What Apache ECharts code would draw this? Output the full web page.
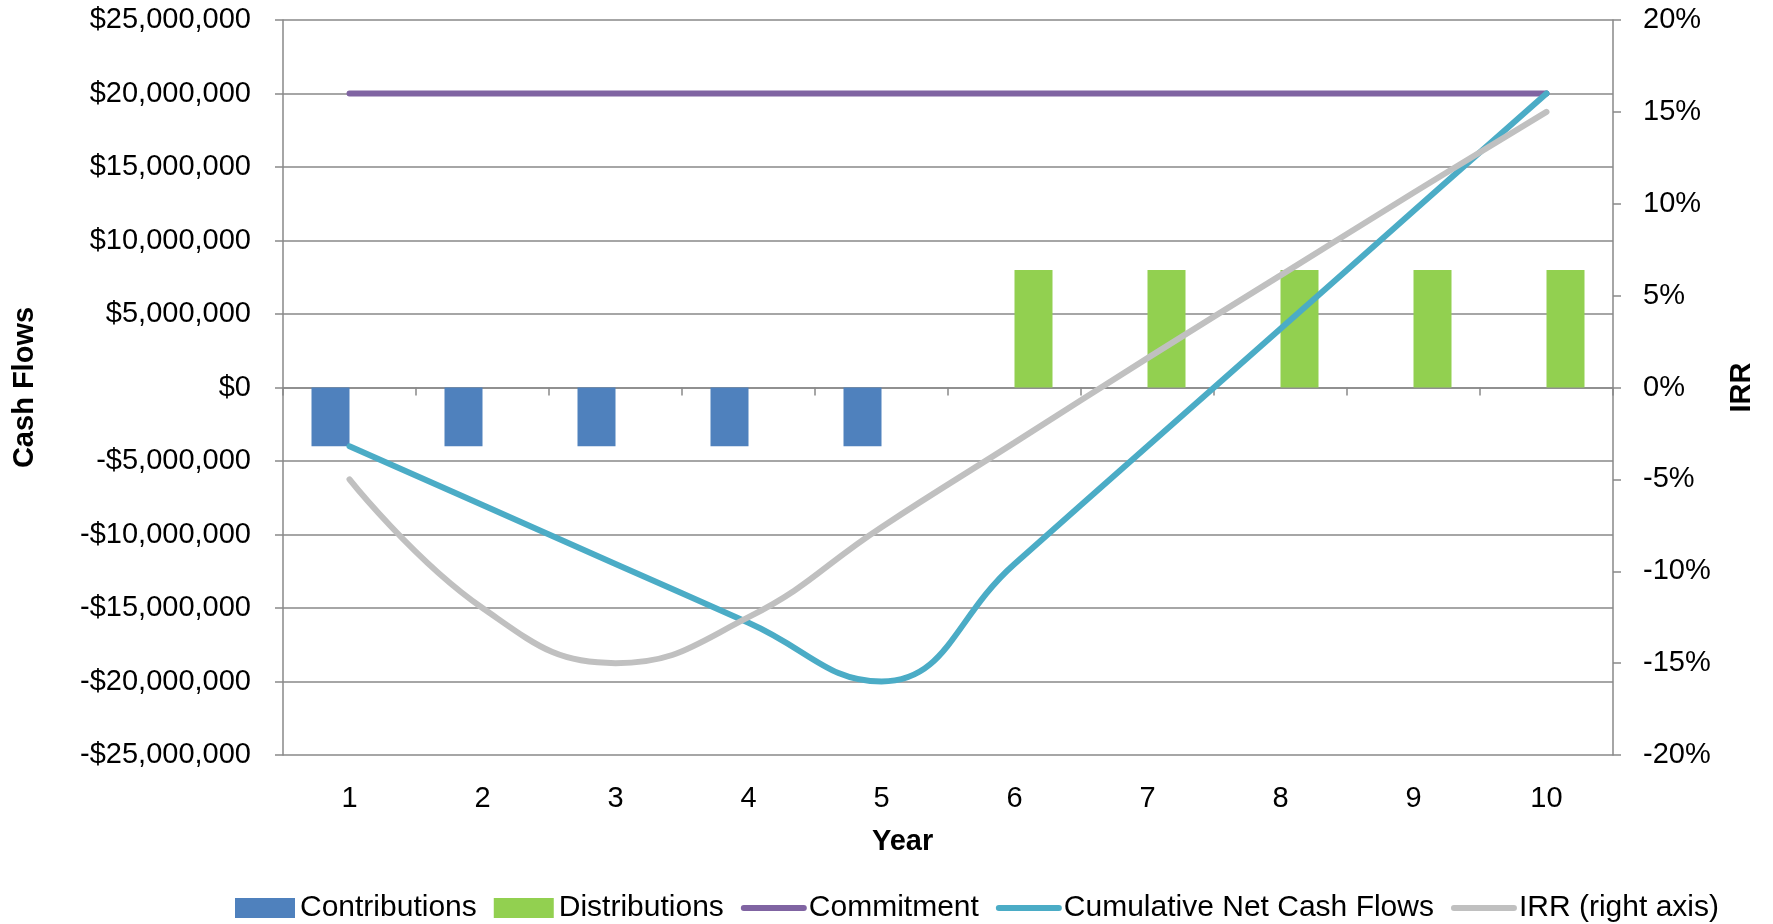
<!DOCTYPE html>
<html>
<head>
<meta charset="utf-8">
<script src="https://cdn.jsdelivr.net/npm/echarts@6/dist/echarts.min.js"></script>
<style>
html,body{margin:0;padding:0;background:#fff;}
#main{width:1773px;height:924px;}
</style>
</head>
<body>
<div id="main"></div>
<script>
var years = ['1','2','3','4','5','6','7','8','9','10'];
var contributions = [-4000000,-4000000,-4000000,-4000000,-4000000,0,0,0,0,0];
var distributions = [0,0,0,0,0,8000000,8000000,8000000,8000000,8000000];
var commitment = [20000000,20000000,20000000,20000000,20000000,20000000,20000000,20000000,20000000,20000000];
var cumulative = [-4000000,-8000000,-12000000,-16000000,-20000000,-12000000,-4000000,4000000,12000000,20000000];
var irr = [-0.05,-0.12,-0.15,-0.125,-0.076,-0.03,0.016,0.061,0.106,0.15];

var FONT = '"Liberation Sans", Arial, sans-serif';
var GRID = '#898989';

function money(v){
  var a = Math.abs(v);
  var s = String(Math.round(a)).replace(/\B(?=(\d{3})+(?!\d))/g, ',');
  return (v < 0 ? '-$' : '$') + s;
}

var LW = 6;
function legendLine(name, color){
  return {name:name, itemStyle:{opacity:0}, lineStyle:{color:color, width:LW, cap:'round', opacity:1}};
}

var chart = echarts.init(document.getElementById('main'), null, {renderer:'canvas'});
chart.setOption({
  animation:false,
  backgroundColor:'#ffffff',
  textStyle:{fontFamily:FONT},
  grid:{left:283, right:160, top:20, bottom:169, containLabel:false},
  legend:{
    left:230, top:888, itemWidth:60, itemHeight:20, itemGap:17,
    textStyle:{fontFamily:FONT, fontSize:30, color:'#000'},
    data:[
      {name:'Contributions', icon:'rect'},
      {name:'Distributions', icon:'rect'},
      legendLine('Commitment', '#8064A2'),
      legendLine('Cumulative Net Cash Flows', '#4BACC6'),
      legendLine('IRR (right axis)', '#C0C0C0')
    ]
  },
  graphic:[{
    type:'text', left:872, top:827, z:10,
    style:{text:'Year', fontFamily:FONT, fontSize:29, fontWeight:'bold', fill:'#000'}
  }],
  xAxis:[
    {
      type:'category', data:years, position:'bottom',
      axisLine:{show:false, onZero:false},
      axisTick:{show:false},
      axisLabel:{fontFamily:FONT, fontSize:29, color:'#000', margin:29},
      splitLine:{show:false}
    },
    {
      type:'category', data:years, position:'bottom',
      axisLine:{show:true, onZero:true, lineStyle:{color:GRID, width:1.5}},
      axisTick:{show:true, length:8, lineStyle:{color:GRID, width:1.5}},
      axisLabel:{show:false},
      splitLine:{show:false}
    }
  ],
  yAxis:[
    {
      type:'value', min:-25000000, max:25000000, interval:5000000,
      name:'Cash Flows', nameLocation:'middle', nameGap:244, nameRotate:90,
      nameTextStyle:{fontFamily:FONT, fontSize:29, fontWeight:'bold', color:'#000'},
      axisLine:{show:true, lineStyle:{color:GRID, width:1.5}},
      axisTick:{show:true, length:8, lineStyle:{color:GRID, width:1.5}},
      axisLabel:{fontFamily:FONT, fontSize:29, color:'#000', margin:32, formatter:money},
      splitLine:{show:true, lineStyle:{color:GRID, width:1.5}}
    },
    {
      type:'value', min:-0.2, max:0.2, interval:0.05, position:'right',
      name:'IRR', nameLocation:'middle', nameGap:114, nameRotate:90,
      nameTextStyle:{fontFamily:FONT, fontSize:29, fontWeight:'bold', color:'#000'},
      axisLine:{show:true, lineStyle:{color:GRID, width:1.5}},
      axisTick:{show:true, length:8, lineStyle:{color:GRID, width:1.5}},
      axisLabel:{fontFamily:FONT, fontSize:29, color:'#000', margin:30,
        formatter:function(v){ return Math.round(v*100) + '%'; }},
      splitLine:{show:false}
    }
  ],
  series:[
    {name:'Contributions', type:'bar', data:contributions, barWidth:38, barGap:'0%',
      itemStyle:{color:'#4F81BD'}},
    {name:'Distributions', type:'bar', data:distributions, barWidth:38, barGap:'0%',
      itemStyle:{color:'#92D050'}},
    {name:'Commitment', type:'line', data:commitment, symbol:'none',
      lineStyle:{color:'#8064A2', width:LW, cap:'round'}, itemStyle:{color:'#8064A2'}},
    {name:'Cumulative Net Cash Flows', type:'line', data:cumulative, symbol:'none', smooth:0.45,
      lineStyle:{color:'#4BACC6', width:LW, cap:'round'}, itemStyle:{color:'#4BACC6'}},
    {name:'IRR (right axis)', type:'line', data:irr, yAxisIndex:1, symbol:'none', smooth:0.45,
      lineStyle:{color:'#C0C0C0', width:LW, cap:'round'}, itemStyle:{color:'#C0C0C0'}}
  ]
});
</script>
</body>
</html>
